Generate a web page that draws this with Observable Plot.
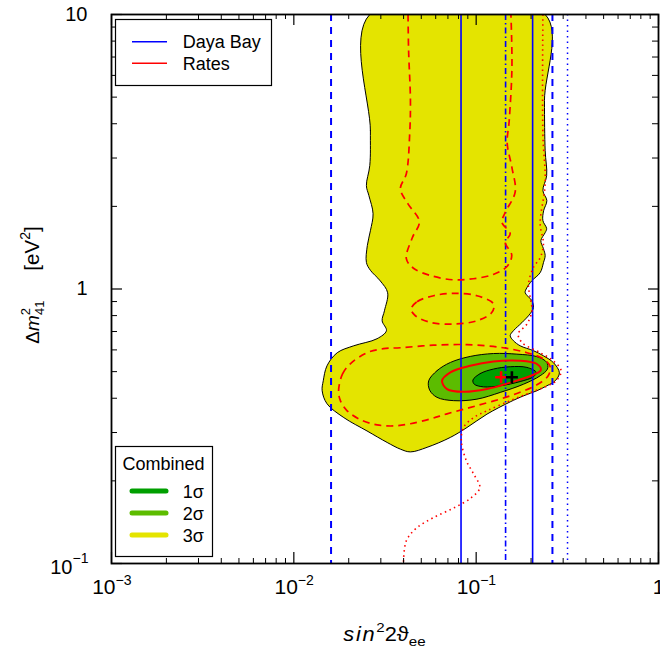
<!DOCTYPE html>
<html><head><meta charset="utf-8">
<script src="https://cdn.jsdelivr.net/npm/d3@7"></script>
<script src="https://cdn.jsdelivr.net/npm/@observablehq/plot@0.6"></script>
<style>body{margin:0;background:#fff;}</style>
</head><body><div id="chart"></div>
<script>
// ---- data: [sin^2 2theta_ee, Delta m^2_41 (eV^2)] ----
const combined3s = [[0.0261,10],[0.0263,3.78],[0.0261,2.82],[0.0250,2.38],[0.0258,2.19],[0.0272,1.88],[0.0263,1.63],[0.0253,1.44],[0.0250,1.25],[0.0263,1.17],[0.0298,1.07],[0.0327,0.969],[0.0314,0.833],[0.0305,0.766],[0.0322,0.705],[0.0286,0.659],[0.0213,0.621],[0.0173,0.586],[0.0152,0.525],[0.0145,0.463],[0.0143,0.426],[0.0152,0.382],[0.0188,0.340],[0.0252,0.304],[0.0325,0.276],[0.0384,0.261],[0.0436,0.255],[0.0538,0.265],[0.0722,0.288],[0.0891,0.313],[0.1146,0.350],[0.1537,0.388],[0.1818,0.408],[0.2153,0.426],[0.2442,0.444],[0.2712,0.463],[0.2861,0.495],[0.2654,0.539],[0.2339,0.571],[0.2062,0.596],[0.1743,0.621],[0.1602,0.648],[0.1537,0.676],[0.1602,0.705],[0.1781,0.754],[0.1978,0.813],[0.2062,0.855],[0.2021,0.907],[0.1857,0.969],[0.1898,1.011],[0.2021,1.072],[0.2244,1.147],[0.2339,1.247],[0.2390,1.323],[0.2339,1.403],[0.2264,1.500],[0.2390,1.604],[0.2436,1.659],[0.2322,1.775],[0.2345,1.930],[0.2442,2.099],[0.2322,2.283],[0.2436,2.588],[0.2390,3.193],[0.2369,4.86],[0.2390,10]];
const combined2s = [[0.0549,0.463],[0.0610,0.504],[0.0722,0.540],[0.0928,0.568],[0.1245,0.582],[0.1673,0.579],[0.2153,0.567],[0.2442,0.540],[0.2460,0.511],[0.2244,0.483],[0.1818,0.450],[0.1355,0.420],[0.1010,0.397],[0.0752,0.392],[0.0610,0.403],[0.0556,0.428]];
const combined1s = [[0.0960,0.466],[0.1053,0.492],[0.1245,0.511],[0.1537,0.521],[0.1898,0.518],[0.2134,0.497],[0.2062,0.479],[0.1743,0.460],[0.1355,0.444],[0.1098,0.440],[0.0976,0.450]];
const rates1s = [[0.0650,0.463],[0.0722,0.497],[0.0928,0.525],[0.1245,0.544],[0.1743,0.548],[0.2153,0.533],[0.2264,0.507],[0.2062,0.487],[0.1537,0.456],[0.1146,0.432],[0.0853,0.422],[0.0692,0.432]];
const rates2sLobe = [[0.0176,0.426],[0.0185,0.491],[0.0204,0.534],[0.0252,0.586],[0.0310,0.606],[0.0384,0.611],[0.0582,0.624],[0.0891,0.627],[0.1355,0.613],[0.1898,0.586],[0.2339,0.556],[0.2546,0.521],[0.2483,0.483],[0.2153,0.448],[0.1537,0.408],[0.1010,0.376],[0.0692,0.351],[0.0568,0.337],[0.0436,0.323],[0.0352,0.317],[0.0286,0.320],[0.0232,0.334],[0.0196,0.360],[0.0180,0.392]];
const rates2sIsland = [[0.0440,0.845],[0.0474,0.899],[0.0584,0.945],[0.0752,0.964],[0.1010,0.945],[0.1245,0.882],[0.1220,0.822],[0.1010,0.766],[0.0752,0.745],[0.0561,0.756],[0.0464,0.799]];
const rates2sUpper = [[0.0423,10],[0.0426,7.39],[0.0436,4.86],[0.0432,3.68],[0.0414,2.63],[0.0384,2.32],[0.0421,2.05],[0.0488,1.76],[0.0447,1.54],[0.0414,1.29],[0.0453,1.19],[0.0561,1.12],[0.0749,1.08],[0.0964,1.09],[0.1241,1.13],[0.1480,1.21],[0.1567,1.33],[0.1443,1.48],[0.1537,1.59],[0.1384,1.75],[0.1443,1.90],[0.1637,2.26],[0.1571,2.77],[0.1480,3.39],[0.1518,4.11],[0.1571,6.41],[0.1551,10]];
const rates3s = [[0.2322,10],[0.2322,3.68],[0.2390,2.42],[0.2244,1.73],[0.2339,1.46],[0.2244,1.30],[0.2062,1.20],[0.1936,1.04],[0.1978,0.932],[0.2021,0.833],[0.1898,0.745],[0.1701,0.687],[0.1788,0.637],[0.2244,0.586],[0.2644,0.548],[0.2924,0.504],[0.2746,0.463],[0.2390,0.440],[0.1978,0.419],[0.1537,0.392],[0.1146,0.360],[0.0968,0.340],[0.0853,0.313],[0.0829,0.280],[0.0883,0.237],[0.0968,0.212],[0.1048,0.189],[0.0943,0.174],[0.0763,0.160],[0.0584,0.147],[0.0473,0.135],[0.0414,0.121],[0.0399,0.1]];
const dayaBaySolid = [0.0826, 0.204];
const dayaBayDashed = [0.0160, 0.262];
const dayaBayDashDot = [0.145];
const dayaBayDotted = [0.317];
const bestFitRates = [[0.137, 0.477]];
const bestFitCombined = [[0.157, 0.477]];
const xTickLabels = [{v:0.001,base:"10",exp:"−3"},{v:0.01,base:"10",exp:"−2"},{v:0.1,base:"10",exp:"−1"},{v:1,base:"1",exp:""}];
const yTickLabels = [{v:0.1,base:"10",exp:"−1"},{v:1,base:"1",exp:""},{v:10,base:"10",exp:""}];
const seriesNames = ["Daya Bay","Rates"];
const seriesColors = ["#0000ff","#ff0000"];
const sigmaNames = ["1σ","2σ","3σ"];
const sigmaColors = ["#009f00","#5cbc00","#e4e400"];

// ---- layout ----
const W = 660, H = 654, mL = 111, mR = 2, mT = 14, mB = 91;
const fw = W - mL - mR, fh = H - mT - mB;
const FONT = "'Liberation Sans', Arial, sans-serif";
const xMajor = xTickLabels.map(d => d.v);
const yMajor = yTickLabels.map(d => d.v);
const xMinor = [], yMinor = [];
[0.001, 0.01, 0.1].forEach(d => { for (let k = 2; k <= 9; k++) xMinor.push(k * d); });
[0.1, 1].forEach(d => { for (let k = 2; k <= 9; k++) yMinor.push(k * d); });
const X = d => d[0], Y = d => d[1];
const cross = {draw(ctx, size) { const r = Math.sqrt(size / Math.PI); ctx.moveTo(-r, 0); ctx.lineTo(r, 0); ctx.moveTo(0, -r); ctx.lineTo(0, r); }};

const plot = Plot.plot({
  width: W, height: H, marginLeft: mL, marginRight: mR, marginTop: mT, marginBottom: mB,
  x: {type: "log", domain: [1e-3, 1], axis: null},
  y: {type: "log", domain: [0.1, 10], axis: null},
  style: {fontFamily: FONT, background: "white", overflow: "visible"},
  marks: [
    Plot.line(combined3s, {x: X, y: Y, curve: "catmull-rom-closed", fill: sigmaColors[2], stroke: "black", strokeWidth: 1, clip: true}),
    Plot.line(combined2s, {x: X, y: Y, curve: "catmull-rom-closed", fill: sigmaColors[1], stroke: "black", strokeWidth: 1}),
    Plot.line(combined1s, {x: X, y: Y, curve: "catmull-rom-closed", fill: sigmaColors[0], stroke: "black", strokeWidth: 1}),
    Plot.ruleX(dayaBaySolid, {stroke: seriesColors[0], strokeWidth: 1.6}),
    Plot.ruleX(dayaBayDashed, {stroke: seriesColors[0], strokeWidth: 2, strokeDasharray: "7,6"}),
    Plot.ruleX(dayaBayDashDot, {stroke: seriesColors[0], strokeWidth: 1.6, strokeDasharray: "6,3,1.5,3"}),
    Plot.ruleX(dayaBayDotted, {stroke: seriesColors[0], strokeWidth: 1.5, strokeDasharray: "1.5,4"}),
    Plot.line(rates1s, {x: X, y: Y, curve: "catmull-rom-closed", stroke: seriesColors[1], strokeWidth: 2}),
    Plot.line(rates2sLobe, {x: X, y: Y, curve: "catmull-rom-closed", stroke: seriesColors[1], strokeWidth: 1.7, strokeDasharray: "7,5", strokeLinecap: "butt"}),
    Plot.line(rates2sIsland, {x: X, y: Y, curve: "catmull-rom-closed", stroke: seriesColors[1], strokeWidth: 1.7, strokeDasharray: "7,5", strokeLinecap: "butt"}),
    Plot.line(rates2sUpper, {x: X, y: Y, curve: "catmull-rom", stroke: seriesColors[1], strokeWidth: 1.7, strokeDasharray: "7,5", strokeLinecap: "butt", clip: true}),
    Plot.line(rates3s, {x: X, y: Y, curve: "catmull-rom", stroke: seriesColors[1], strokeWidth: 1.6, strokeDasharray: "1.5,3.5", strokeLinecap: "butt", clip: true}),
    Plot.dot(bestFitRates, {x: X, y: Y, symbol: cross, r: 6, fill: "none", stroke: seriesColors[1], strokeWidth: 2.6}),
    Plot.dot(bestFitCombined, {x: X, y: Y, symbol: cross, r: 6, fill: "none", stroke: "black", strokeWidth: 2.6}),
    // ticks, inward on all four sides
    Plot.ruleX(xMajor, {insetTop: fh - 11, stroke: "black", strokeWidth: 1.2}),
    Plot.ruleX(xMajor, {insetBottom: fh - 11, stroke: "black", strokeWidth: 1.2}),
    Plot.ruleX(xMinor, {insetTop: fh - 5, stroke: "black", strokeWidth: 1}),
    Plot.ruleX(xMinor, {insetBottom: fh - 5, stroke: "black", strokeWidth: 1}),
    Plot.ruleY(yMajor, {insetRight: fw - 11, stroke: "black", strokeWidth: 1.2}),
    Plot.ruleY(yMajor, {insetLeft: fw - 10, stroke: "black", strokeWidth: 1.2}),
    Plot.ruleY(yMinor, {insetRight: fw - 6, stroke: "black", strokeWidth: 1}),
    Plot.ruleY(yMinor, {insetLeft: fw - 6, stroke: "black", strokeWidth: 1}),
    Plot.frame({stroke: "black", strokeWidth: 1.8}),
    // tick labels
    Plot.text(xTickLabels.filter(d => d.exp), {x: "v", text: "base", frameAnchor: "bottom", dy: 30, dx: 4, textAnchor: "end", fontSize: 21, fill: "black"}),
    Plot.text(xTickLabels.filter(d => d.exp), {x: "v", text: "exp", frameAnchor: "bottom", dy: 21, dx: 4, textAnchor: "start", fontSize: 14, fill: "black"}),
    Plot.text(xTickLabels.filter(d => !d.exp), {x: "v", text: "base", frameAnchor: "bottom", dy: 30, textAnchor: "middle", fontSize: 21, fill: "black"}),
    Plot.text(yTickLabels.filter(d => !d.exp), {y: "v", text: "base", frameAnchor: "left", dx: -24, textAnchor: "end", fontSize: 20, fill: "black"}),
    Plot.text(yTickLabels.filter(d => d.exp), {y: "v", text: "base", frameAnchor: "left", dx: -39, dy: 4, textAnchor: "end", fontSize: 20, fill: "black"}),
    Plot.text(yTickLabels.filter(d => d.exp), {y: "v", text: "exp", frameAnchor: "left", dx: -39, dy: -5, textAnchor: "start", fontSize: 14, fill: "black"})
  ]
});
document.getElementById("chart").append(plot);
const svg = d3.select(plot);

// axis titles
const xt = svg.append("text").attr("transform", `translate(${mL + fw / 2},641) scale(1.12,1)`).attr("text-anchor", "middle")
  .attr("font-family", FONT).attr("font-size", 19.5).attr("fill", "black");
xt.append("tspan").attr("font-style", "italic").attr("letter-spacing", 1.5).text("sin");
xt.append("tspan").attr("font-size", 13.5).attr("dy", -9).text("2");
xt.append("tspan").attr("dy", 9).text("2ϑ");
xt.append("tspan").attr("font-size", 13.5).attr("dy", 5).text("ee");

const yt = svg.append("text").attr("transform", `translate(39,285) rotate(-90)`).attr("text-anchor", "middle")
  .attr("font-family", FONT).attr("font-size", 19).attr("fill", "black");
yt.append("tspan").text("Δ");
yt.append("tspan").attr("font-style", "italic").text("m");
yt.append("tspan").attr("font-size", 13).attr("dy", -9).text("2");
yt.append("tspan").attr("font-size", 13).attr("dx", -7.2).attr("dy", 14).text("41");
yt.append("tspan").attr("dx", 30).attr("dy", -5).attr("font-size", 20.5).text("[eV");
yt.append("tspan").attr("font-size", 14).attr("dy", -9).text("2");
yt.append("tspan").attr("dy", 9).attr("font-size", 20.5).text("]");

// legend: series
const lg1 = svg.append("g").attr("font-family", FONT).attr("font-size", 18).attr("text-anchor", "start");
lg1.append("rect").attr("x", 115.5).attr("y", 19.5).attr("width", 156).attr("height", 66)
  .attr("fill", "white").attr("stroke", "black").attr("stroke-width", 1.2);
seriesNames.forEach((name, i) => {
  const yy = 41.7 + i * 21.6;
  lg1.append("line").attr("x1", 132).attr("x2", 167).attr("y1", yy).attr("y2", yy)
    .attr("stroke", seriesColors[i]).attr("stroke-width", 1.6);
  lg1.append("text").attr("x", 182.7).attr("y", yy + 6.5).attr("text-anchor", "start").attr("fill", "black").text(name);
});

// legend: combined
const lg2 = svg.append("g").attr("font-family", FONT).attr("font-size", 18).attr("text-anchor", "start");
lg2.append("rect").attr("x", 115.5).attr("y", 446.5).attr("width", 97).attr("height", 110)
  .attr("fill", "white").attr("stroke", "black").attr("stroke-width", 1.2);
lg2.append("text").attr("x", 163.5).attr("y", 469.5).attr("text-anchor", "middle").attr("fill", "black").text("Combined");
sigmaNames.forEach((name, i) => {
  const yy = 491 + i * 22;
  lg2.append("line").attr("x1", 132).attr("x2", 166).attr("y1", yy).attr("y2", yy)
    .attr("stroke", sigmaColors[i]).attr("stroke-width", 5).attr("stroke-linecap", "round");
  lg2.append("text").attr("x", 182.7).attr("y", yy + 6.5).attr("text-anchor", "start").attr("fill", "black").text(name);
});
</script>
</body></html>
